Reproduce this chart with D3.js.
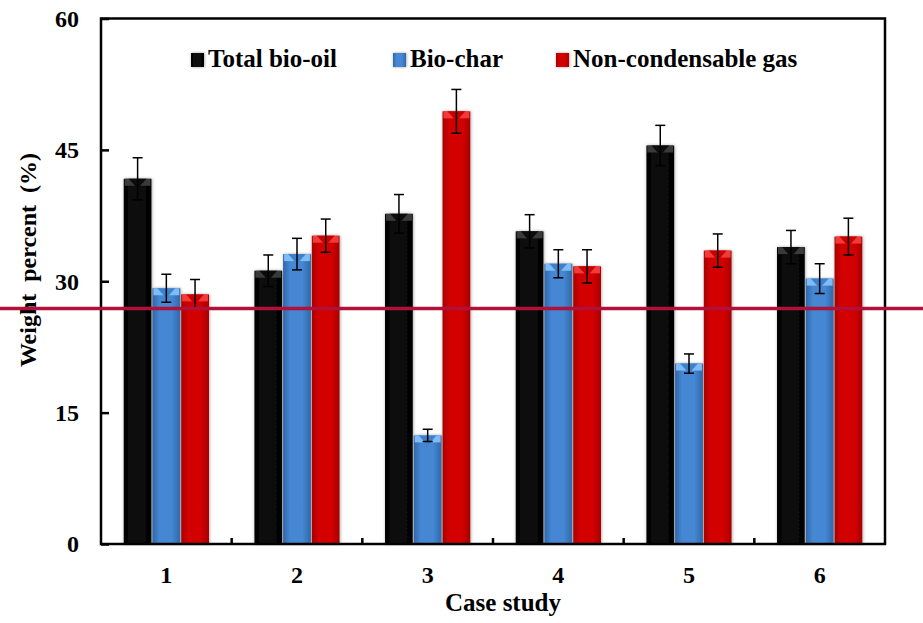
<!DOCTYPE html>
<html>
<head>
<meta charset="utf-8">
<script src="https://cdn.jsdelivr.net/npm/d3@7"></script>
<style>
  html, body { margin: 0; padding: 0; background: #fff; }
  svg { display: block; }
  text { font-family: 'Liberation Serif', 'Times New Roman', serif; font-weight: bold; fill: #000; }
</style>
</head>
<body>
<div id="chart"></div>
<script>
// Product yields per case study (weight %), with error bars.
const cases = ['1', '2', '3', '4', '5', '6'];
const seriesNames = ['Total bio-oil', 'Bio-char', 'Non-condensable gas'];
const bioOil = [41.7, 31.2, 37.7, 35.7, 45.5, 33.9];
const bioOilErr = [2.4, 1.8, 2.2, 1.9, 2.3, 1.9];
const bioChar = [29.2, 33.1, 12.4, 32.0, 20.6, 30.3];
const bioCharErr = [1.6, 1.8, 0.7, 1.6, 1.1, 1.7];
const gas = [28.5, 35.2, 49.4, 31.7, 33.5, 35.1];
const gasErr = [1.7, 1.9, 2.5, 1.9, 1.9, 2.1];
const yTicks = [0, 15, 30, 45, 60];
const refLine = 26.9; // the horizontal marker drawn across the figure

const W = 923, H = 623;
const m = { l: 101, r: 38, t: 18.5, b: 79 };

const svg = d3.select('#chart').append('svg').attr('width', W).attr('height', H);
const defs = svg.append('defs');

// bar colours: [edge, centre, top highlight, top notch]
const pal = [
  ['#000', '#0a0a0a', '#3a3a3a', '#0c0c0c'],
  ['#2f67a8', '#4487d2', '#7fbcf5', '#3f80cb'],
  ['#a80000', '#d30000', '#f23a3a', '#c80000'],
];
pal.forEach((c, i) => {
  const g = defs.append('linearGradient').attr('id', `grad${i}`).attr('x1', 0).attr('x2', 1);
  g.append('stop').attr('offset', '0%').attr('stop-color', c[0]);
  g.append('stop').attr('offset', '25%').attr('stop-color', c[1]);
  g.append('stop').attr('offset', '70%').attr('stop-color', c[1]);
  g.append('stop').attr('offset', '100%').attr('stop-color', c[0]);
});
defs.append('filter').attr('id', 'shadow').attr('x', '-20%').attr('width', '140%')
  .append('feDropShadow').attr('dx', 0.5).attr('dy', 0).attr('stdDeviation', 1.4)
  .attr('flood-color', '#777').attr('flood-opacity', 0.7);

const x0 = d3.scaleBand().domain(cases).range([m.l, W - m.r]).paddingInner(0.334).paddingOuter(0.167);
const x1 = d3.scaleBand().domain(d3.range(3)).range([0, x0.bandwidth()]).padding(0.03);
const y = d3.scaleLinear().domain([0, 60]).range([H - m.b, m.t]);

const rows = cases.map((c, i) => ({
  c,
  vals: [[bioOil[i], bioOilErr[i]], [bioChar[i], bioCharErr[i]], [gas[i], gasErr[i]]],
}));

const groups = svg.append('g').selectAll('g').data(rows).join('g')
  .attr('transform', d => `translate(${x0(d.c)},0)`);

const bars = groups.selectAll('g.bar').data(d => d.vals.map((v, s) => ({ s, v: v[0], e: v[1] })))
  .join('g').attr('class', 'bar');

bars.append('rect')
  .attr('x', d => x1(d.s)).attr('y', d => y(d.v))
  .attr('width', x1.bandwidth()).attr('height', d => y(0) - y(d.v))
  .attr('fill', d => `url(#grad${d.s})`)
  .attr('filter', 'url(#shadow)');

// bevelled top
bars.append('rect')
  .attr('x', d => x1(d.s) + 1).attr('y', d => y(d.v))
  .attr('width', x1.bandwidth() - 2).attr('height', 7)
  .attr('fill', d => pal[d.s][2]);
bars.append('path')
  .attr('d', d => {
    const xa = x1(d.s), w = x1.bandwidth(), yt = y(d.v);
    return `M${xa + w * 0.18},${yt}L${xa + w * 0.82},${yt}L${xa + w / 2},${yt + 10}Z`;
  })
  .attr('fill', d => pal[d.s][3]);

// error bars
const eb = bars.append('g').attr('stroke', '#000').attr('stroke-width', 1.5).attr('fill', 'none');
eb.append('line')
  .attr('x1', d => x1(d.s) + x1.bandwidth() / 2).attr('x2', d => x1(d.s) + x1.bandwidth() / 2)
  .attr('y1', d => y(d.v + d.e)).attr('y2', d => y(d.v - d.e));
eb.append('line')
  .attr('x1', d => x1(d.s) + x1.bandwidth() / 2 - 5).attr('x2', d => x1(d.s) + x1.bandwidth() / 2 + 5)
  .attr('y1', d => y(d.v + d.e)).attr('y2', d => y(d.v + d.e));
eb.append('line')
  .attr('x1', d => x1(d.s) + x1.bandwidth() / 2 - 5).attr('x2', d => x1(d.s) + x1.bandwidth() / 2 + 5)
  .attr('y1', d => y(d.v - d.e)).attr('y2', d => y(d.v - d.e));

// axes: inward ticks
const yAxis = svg.append('g').attr('transform', `translate(${m.l},0)`)
  .call(d3.axisRight(y).tickValues(yTicks).tickSize(8).tickFormat(''));
yAxis.select('.domain').remove();
yAxis.selectAll('line').attr('stroke', '#000').attr('stroke-width', 2.5);

svg.append('g').selectAll('text').data(yTicks).join('text')
  .attr('x', m.l - 22).attr('y', d => y(d)).attr('dy', '0.35em')
  .attr('text-anchor', 'end').attr('font-size', 24).text(d => d);

const sepX = cases.slice(1).map(c => x0(c) - x0.step() * x0.paddingInner() / 2);
svg.append('g').selectAll('line').data(sepX).join('line')
  .attr('x1', d => d).attr('x2', d => d)
  .attr('y1', y(0)).attr('y2', y(0) - 6)
  .attr('stroke', '#000').attr('stroke-width', 2.5);

svg.append('g').selectAll('text').data(cases).join('text')
  .attr('x', d => x0(d) + x0.bandwidth() / 2).attr('y', y(0) + 31)
  .attr('dy', '0.35em').attr('text-anchor', 'middle').attr('font-size', 24).text(d => d);

// frame
svg.append('rect')
  .attr('x', m.l).attr('y', m.t).attr('width', W - m.r - m.l).attr('height', y(0) - m.t)
  .attr('fill', 'none').attr('stroke', '#000').attr('stroke-width', 2.5);

// titles
svg.append('text').attr('x', 503).attr('y', 611).attr('text-anchor', 'middle')
  .attr('font-size', 25).text('Case study');
svg.append('text').attr('transform', 'translate(36,260) rotate(-90)')
  .attr('text-anchor', 'middle').attr('font-size', 24).style('white-space', 'pre')
  .text('Weight  percent  (%)');

// legend
const legX = [191, 393, 556];
const leg = svg.append('g').selectAll('g').data(seriesNames).join('g')
  .attr('transform', (d, i) => `translate(${legX[i]},53)`);
leg.append('rect').attr('width', 13).attr('height', 14).attr('fill', (d, i) => `url(#grad${i})`)
  .attr('filter', 'url(#shadow)');
leg.append('text').attr('x', 17).attr('y', 13.5).attr('font-size', 25).text(d => d);

// horizontal marker line across the figure
svg.append('line')
  .attr('x1', 0).attr('x2', W).attr('y1', y(refLine)).attr('y2', y(refLine))
  .attr('stroke', '#b0103a').attr('stroke-width', 3.5);
</script>
</body>
</html>
